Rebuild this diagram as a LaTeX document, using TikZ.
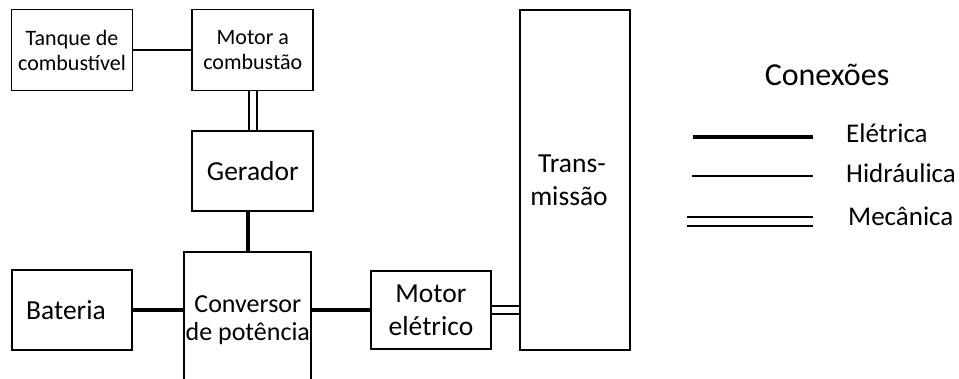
\documentclass[tikz,border=0pt]{standalone}
\usepackage{fontspec}
\setmainfont{Carlito}
\usepackage{tikz}
\usetikzlibrary{positioning}

\begin{document}
\begin{tikzpicture}[
    x=1pt, y=-1pt,
    bloco/.style={rectangle, draw, line width=1.8pt, align=center, inner sep=0pt, font=\fontsize{27.5}{33}\selectfont},
    pequeno/.style={bloco, minimum width=121pt, minimum height=81pt, font=\fontsize{22}{25}\selectfont},
    eletrica/.style={line width=4pt},
    hidraulica/.style={line width=1.8pt},
    mecanica/.style={line width=1.8pt, double, double distance=6.5pt},
    legenda/.style={anchor=base west, inner sep=0pt, font=\fontsize{27}{30}\selectfont}
]
    \useasboundingbox (0,0) rectangle (959,378);

    % Nodes
    \node[pequeno] (tanque) at (72,50) {Tanque de\\combustível};
    \node[pequeno, right=58pt of tanque] (motorc) {Motor a\\combustão};
    \node[bloco, minimum width=121pt, minimum height=80pt, below=39pt of motorc] (gerador) {Gerador};
    \node[bloco, minimum width=127pt, minimum height=136pt, below=39pt of gerador, xshift=-5pt,
          font=\fontsize{26}{28}\selectfont] (conversor) {Conversor\\de potência};
    \node[bloco, minimum width=120pt, minimum height=80pt] (bateria) at (72,310) {Bateria\hspace*{12pt}};
    \node[bloco, minimum width=120pt, minimum height=78pt] (motorel) at (431,310) {Motor\\elétrico};
    \node[bloco, minimum width=110pt, minimum height=340pt] (trans) at (575,180) {Trans-\hspace*{6pt}\\missão\hspace*{12pt}};

    % Connections
    \draw[hidraulica] (tanque) -- (motorc);
    \draw[mecanica] (motorc.south) -- (gerador.north);
    \draw[eletrica] (conversor.north |- gerador.south) -- (conversor.north);
    \draw[eletrica] (bateria.east) -- (bateria.east -| conversor.west);
    \draw[eletrica] (motorel.west -| conversor.east) -- (motorel.west);
    \draw[mecanica] (motorel.east) -- (motorel.east -| trans.west);

    % Legend
    \node[font=\fontsize{32}{34}\selectfont, anchor=base] (titulo) at (827,85) {Conexões};
    \coordinate (e1) at (693,137);
    \coordinate (e2) at (813,137);
    \coordinate (h1) at (692,176);
    \coordinate (h2) at (813,176);
    \coordinate (m1) at (687,221.5);
    \coordinate (m2) at (813,221.5);
    \draw[eletrica] (e1) -- (e2);
    \draw[hidraulica] (h1) -- (h2);
    \draw[mecanica] (m1) -- (m2);
    \node[legenda] (leg-e) at (846,142) {Elétrica};
    \node[legenda] (leg-h) at (846,182) {Hidráulica};
    \node[legenda] (leg-m) at (848,225) {Mecânica};
\end{tikzpicture}
\end{document}
